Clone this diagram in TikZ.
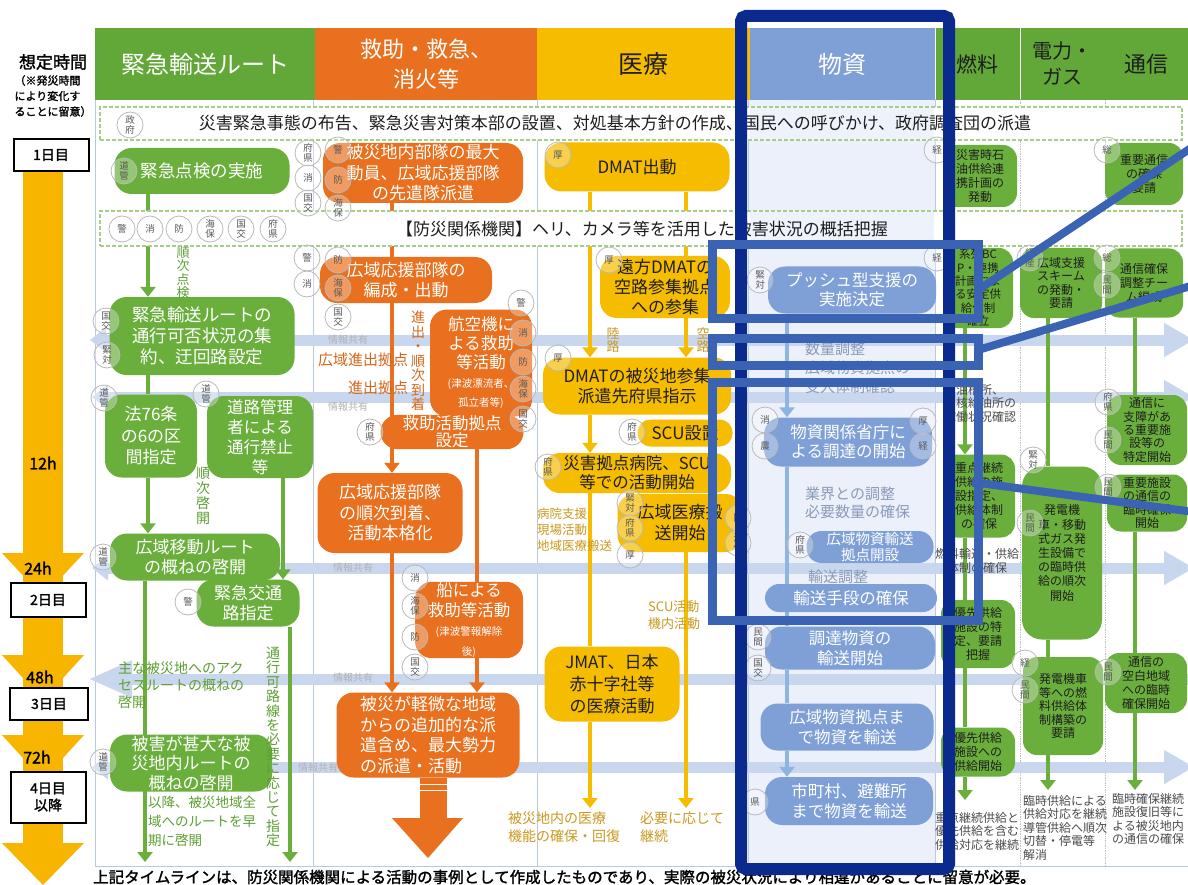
\documentclass[tikz,border=0pt]{standalone}
\usepackage{fontspec}
\setmainfont{Noto Sans CJK JP}[AutoFakeBold=1.6]
\usetikzlibrary{arrows.meta,calc}
\newcommand\fz[2]{\fontsize{#1}{#2}\selectfont}
\definecolor{gr}{HTML}{6AAF3C}
\definecolor{grh}{HTML}{62A838}
\definecolor{grt}{HTML}{5E9F33}
\definecolor{orn}{HTML}{E9701E}
\definecolor{ort}{HTML}{D4661C}
\definecolor{yel}{HTML}{F6BC00}
\definecolor{yelt}{HTML}{C99A20}
\definecolor{bln}{HTML}{7EA0D7}
\definecolor{blline}{HTML}{8DB4E2}
\definecolor{blt}{HTML}{8A9BB8}
\definecolor{lav}{HTML}{EBF0FB}
\definecolor{bandc}{HTML}{C8D7ED}
\definecolor{navy}{HTML}{0B2A8E}
\definecolor{hib}{HTML}{3A63B4}
\definecolor{framec}{HTML}{B9C9E2}
\definecolor{dashc}{HTML}{A3CF86}
\definecolor{tyel}{HTML}{F7B500}
\definecolor{dk}{HTML}{1E1E1E}
\pgfdeclarelayer{bg}\pgfdeclarelayer{ln}\pgfdeclarelayer{fg}
\pgfsetlayers{bg,ln,main,fg}
\begin{document}
\begin{tikzpicture}[x=1pt,y=-1pt,
 sz/.style 2 args={minimum width=#1pt, minimum height=#2pt},
 box/.style={rounded corners=17pt, inner sep=1pt, align=center},
 gn/.style={box, fill=gr, text=white, font=\fz{17.5}{21}},
 on/.style={box, fill=orn, text=white, font=\fz{17}{20.5}},
 yn/.style={box, fill=yel, text=dk, font=\fz{17}{20}},
 bn/.style={box, fill=bln, text=white, font=\fz{16.5}{19.5}},
 sn/.style={box, rounded corners=14pt, fill=gr, text=dk, font=\fz{12}{14}},
 hdr/.style={inner sep=0pt, align=center},
 circ/.style={circle, draw=gray!55, line width=0.8pt, fill=white, fill opacity=0.3, text opacity=1, text=gray!70!black, minimum size=26pt, inner sep=0pt, align=center, font=\fz{9.5}{10.5}},
 tarr/.style={-{Triangle[width=15pt,length=10pt]}},
 gline/.style={draw=gr, line width=4.5pt},
 oline/.style={draw=orn, line width=4.5pt},
 yline/.style={draw=yel, line width=4.5pt},
 bline/.style={draw=blline, line width=4.5pt},
 band/.style={draw=bandc, line width=11pt},
 rowbox/.style={draw=dashc, line width=1.2pt, dash pattern=on 4pt off 2pt, fill=white},
 gtext/.style={text=grt, align=center, inner sep=0pt},
 otext/.style={text=ort, align=center, inner sep=0pt},
 ytext/.style={text=yelt, align=left, inner sep=0pt},
 btext/.style={text=blt, align=left, inner sep=0pt},
 ktext/.style={text=dk!80, align=left, inner sep=0pt, font=\fz{12}{13.5}},
 daybox/.style={draw=black, line width=2pt, fill=white, inner sep=0pt, font=\fz{14}{16}\bfseries, align=center},
 hl/.style={draw=hib, line width=9pt},
]
\useasboundingbox (0,0) rectangle (1188,885);

% ---------------- background ----------------
\begin{pgfonlayer}{bg}
\fill[white] (0,0) rectangle (1188,885);
\fill[lav] (748,100) rectangle (935,866);
\foreach \x in {313,537,748,935} \draw[framec, line width=0.8pt] (\x,100) -- (\x,866);
\foreach \x in {1020,1105} \draw[gray!50, line width=0.7pt, densely dotted] (\x,100) -- (\x,866);
\draw[framec, line width=1pt] (95,100) rectangle (1188,866);
% info-sharing bands
\draw[band, {Triangle[width=24pt,length=16pt]}-{Triangle[width=32pt,length=30pt]}] (90,340) -- (1194,340);
\draw[band, {Triangle[width=24pt,length=16pt]}-{Triangle[width=32pt,length=30pt]}] (92,397) -- (1194,397);
\draw[band, {Triangle[width=24pt,length=16pt]}-{Triangle[width=32pt,length=30pt]}] (92,568) -- (1194,568);
\draw[band, {Triangle[width=34pt,length=44pt]}-] (88,679) -- (1190,679);
\draw[band, {Triangle[width=24pt,length=16pt]}-{Triangle[width=32pt,length=30pt]}] (92,767) -- (1194,767);
\end{pgfonlayer}

% ---------------- time axis ----------------
\fill[tyel] (23,172) rectangle (63,848);
\fill[tyel] (2,553) -- (84,553) -- (43,597) -- cycle;
\fill[tyel] (2,655) -- (84,655) -- (43,700) -- cycle;
\fill[tyel] (2,735) -- (84,735) -- (43,780) -- cycle;
\fill[tyel] (2,843) -- (84,843) -- (43,885) -- cycle;
\node[font=\fz{17}{20}\bfseries] (hd1) at (53,62) {想定時間};
\node[font=\fz{11}{15.5}\bfseries, align=left] (hd2) at (53,96) {（※発災時間\\により変化す\\ることに留意）};
\node[daybox, minimum width=75pt, minimum height=32pt] (d1) at (51,155) {1日目};
\node[daybox, minimum width=75pt, minimum height=34pt] (d2) at (48,600) {2日目};
\node[daybox, minimum width=78pt, minimum height=32pt] (d3) at (49,704) {3日目};
\node[daybox, minimum width=75pt, minimum height=51pt, font=\fz{14}{17}\bfseries] (d4) at (48,797) {4日目\\以降};
\node[font=\fz{16}{18}\bfseries] (t12) at (43,463) {12h};
\node[font=\fz{16}{18}\bfseries] (t24) at (38,568) {24h};
\node[font=\fz{16}{18}\bfseries] (t48) at (40,677) {48h};
\node[font=\fz{16}{18}\bfseries] (t72) at (37,757) {72h};

% ---------------- headers ----------------
\node[hdr, fill=grh, minimum width=220pt, minimum height=72pt, text=white, font=\fz{24}{28}] (h1) at (205,64) {緊急輸送ルート};
\node[hdr, fill=orn, minimum width=222pt, minimum height=72pt, text=white, font=\fz{22}{30}] (h2) at (426,64) {救助・救急、\\消火等};
\node[hdr, fill=yel, minimum width=213pt, minimum height=72pt, text=dk, font=\fz{25}{28}] (h3) at (643.5,64) {医療};
\node[hdr, fill=bln, minimum width=185pt, minimum height=72pt, text=white, font=\fz{24}{28}] (h4) at (842.5,64) {物資};
\node[hdr, fill=grh, minimum width=84pt, minimum height=72pt, text=dk, font=\fz{21}{24}] (h5) at (977.5,64) {燃料};
\node[hdr, fill=grh, minimum width=84pt, minimum height=72pt, text=dk, font=\fz{20}{26}] (h6) at (1062.5,64) {電力・\\ガス};
\node[hdr, fill=grh, minimum width=83pt, minimum height=72pt, text=dk, font=\fz{22}{26}] (h7) at (1146.5,64) {通信};

% ---------------- nodes: green ----------------
\node[gn, sz={175}{46}] (g1) at (202,171) {緊急点検の実施};
\node[gn, sz={185}{78}] (g2) at (202,336) {緊急輸送ルートの\\通行可否状況の集\\約、迂回路設定};
\node[gn, sz={92}{83}, font=\fz{17}{21.5}] (g3) at (151,436) {法76条\\の6の区\\間指定};
\node[gn, sz={106}{82}, font=\fz{16.5}{20}] (g4) at (260,437) {道路管理\\者による\\通行禁止\\等};
\node[gn, sz={170}{47}, font=\fz{17}{20.5}] (g5) at (195,557) {広域移動ルート\\の概ねの啓開};
\node[gn, sz={103}{47}, font=\fz{17}{20.5}] (g6) at (248,603) {緊急交通\\路指定};
\node[gn, sz={162}{57}, font=\fz{17}{19.5}] (g7) at (191,763) {被害が甚大な被\\災地内ルートの\\概ねの啓開};

% ---------------- nodes: orange ----------------
\node[on, sz={200}{60}] (o1) at (423,173) {被災地内部隊の最大\\動員、広域応援部隊\\の先遣隊派遣};
\node[on, sz={172}{46}] (o2) at (406,280) {広域応援部隊の\\編成・出動};
\node[on, sz={102}{107}, font=\fz{16.5}{19}] (o3) at (481,363) {航空機に\\よる救助\\等活動\\{\fz{10.5}{13}(津波漂流者、}\\{\fz{10.5}{13}孤立者等)}};
\node[on, sz={143}{32}, font=\fz{16.5}{17}] (o4) at (452,432) {救助活動拠点\\設定};
\node[on, sz={145}{80}] (o5) at (390,513) {広域応援部隊\\の順次到着、\\活動本格化};
\node[on, sz={108}{74}, font=\fz{16.5}{19.5}] (o6) at (469,620) {船による\\救助等活動\\{\fz{10.5}{13}(津波警報解除}\\{\fz{10.5}{13}後)}};
\node[on, sz={183}{85}, align=left] (o7) at (428,735) {被災が軽微な地域\\からの追加的な派\\遣含め、最大勢力\\の派遣・活動};

% ---------------- nodes: yellow ----------------
\node[yn, sz={185}{49}] (y1) at (637,167) {DMAT出動};
\node[yn, sz={130}{62}] (y2) at (665,287) {遠方DMATの\\空路参集拠点\\への参集};
\node[yn, sz={188}{57}] (y3) at (637,386) {DMATの被災地参集\\派遣先府県指示};
\node[yn, sz={95}{27}, rounded corners=13pt] (y4) at (685,433) {SCU設置};
\node[yn, sz={188}{40}, font=\fz{16.5}{19}] (y5) at (637,473) {災害拠点病院、SCU\\等での活動開始};
\node[yn, sz={125}{58}, font=\fz{17}{21}] (y6) at (680,523) {広域医療搬\\送開始};
\node[yn, sz={135}{75}, font=\fz{17}{22}] (y7) at (612,684) {JMAT、日本\\赤十字社等\\の医療活動};

% ---------------- nodes: blue ----------------
\node[bn, sz={168}{47}] (b1) at (852,290) {プッシュ型支援の\\実施決定};
\node[bn, sz={168}{49}] (b2) at (848,442) {物資関係省庁に\\よる調達の開始};
\node[bn, sz={127}{32}, font=\fz{14.5}{15.5}, rounded corners=15pt] (b3) at (870,547) {広域物資輸送\\拠点開設};
\node[bn, sz={172}{28}, rounded corners=14pt] (b4) at (851,598) {輸送手段の確保};
\node[bn, sz={170}{43}, font=\fz{16.5}{20}] (b5) at (850,648) {調達物資の\\輸送開始};
\node[bn, sz={173}{47}] (b6) at (847,727) {広域物資拠点ま\\で物資を輸送};
\node[bn, sz={168}{48}, font=\fz{16.5}{20}] (b7) at (849,801) {市町村、避難所\\まで物資を輸送};

% ---------------- nodes: right columns ----------------
\node[sn, sz={74}{62}] (f1) at (980,176) {災害時石\\油供給連\\携計画の\\発動};
\node[sn, sz={70}{80}, font=\fz{11.5}{13.4}] (f2) at (978,288) {系列BC\\P・連携\\計画によ\\る安定供\\給体制\\確立};
\node[sn, sz={72}{83}, font=\fz{12}{14}] (f3) at (979,496) {重点継続\\供給の施\\設指定、\\供給体制\\の確保};
\node[sn, sz={74}{68}] (f4) at (978,634) {優先供給\\施設の特\\定、要請\\把握};
\node[sn, sz={74}{49}] (f5) at (978,752) {優先供給\\施設への\\供給開始};
\node[sn, sz={82}{70}, font=\fz{12}{13.5}] (e1) at (1061,283) {広域支援\\スキーム\\の発動・\\要請};
\node[sn, sz={80}{173}, font=\fz{12}{14.2}, rounded corners=20pt] (e2) at (1062,553) {発電機\\車・移動\\式ガス発\\生設備で\\の臨時供\\給の順次\\開始};
\node[sn, sz={80}{98}, font=\fz{12}{13.5}] (e3) at (1063,706) {発電機車\\等への燃\\料供給体\\制構築の\\要請};
\node[sn, sz={78}{62}] (t1) at (1144,174) {重要通信\\の確保\\要請};
\node[sn, sz={78}{69}] (t2) at (1144,283) {通信確保\\調整チー\\ム編成};
\node[sn, sz={80}{70}, font=\fz{12}{13.3}] (t3) at (1147,430) {通信に\\支障があ\\る重要施\\設等の\\特定開始};
\node[sn, sz={80}{57}, font=\fz{12}{13.5}] (t4) at (1147,503) {重要施設\\の通信の\\臨時確保\\開始};
\node[sn, sz={82}{60}, font=\fz{12}{14}] (t5) at (1146,683) {通信の\\空白地域\\への臨時\\確保開始};

% ---------------- free coordinates ----------------
\coordinate (xg1) at (148,0); \coordinate (xg2) at (283,0); \coordinate (xg3) at (145,0); \coordinate (xg4) at (290,0);
\coordinate (xo1) at (392,0); \coordinate (xo2) at (477,0);
\coordinate (xy1) at (590,0); \coordinate (xy2) at (686,0);
\coordinate (xb1) at (787,0);
\coordinate (xf) at (965,0); \coordinate (xe) at (1048,0); \coordinate (xt) at (1135,0);
\coordinate (gend1) at (145,862); \coordinate (gend2) at (290,862);
\coordinate (yend1) at (590,808); \coordinate (yend2) at (686,808);
\coordinate (fend) at (965,800); \coordinate (eend) at (1048,790); \coordinate (tend) at (1135,790);

% ---------------- connectors ----------------
\begin{pgfonlayer}{ln}
\draw[gline, tarr] (g1.south -| xg1) -- (g2.north -| xg1);
\draw[gline] (g2.south -| xg1) -- (g3.north -| xg1);
\draw[gline, tarr] (g3.south -| xg1) -- (g5.north -| xg1);
\draw[gline, tarr] (g4.south -| xg2) -- (g6.north -| xg2);
\draw[gline, tarr] (g5.south -| xg3) -- (gend1);
\draw[gline, tarr] (g6.south -| xg4) -- (gend2);
\draw[oline] (o1.south -| xo1) -- (o2.north -| xo1);
\draw[oline, tarr] (o2.south -| xo1) -- (o5.north -| xo1);
\draw[oline] (o4.south -| xo2) -- (o6.north -| xo2);
\draw[oline, tarr] (o5.south -| xo1) -- (o7.north -| xo1);
\draw[oline, tarr] (o6.south -| xo2) -- (o7.north -| xo2);
\draw[yline, tarr] (y1.south -| xy1) -- (y3.north -| xy1);
\draw[yline] (y1.south -| xy2) -- (y2.north -| xy2);
\draw[yline, tarr] (y2.south -| xy2) -- (y3.north -| xy2);
\draw[yline, tarr] (y3.south -| xy1) -- (y5.north -| xy1);
\draw[yline] (y5.south -| xy1) -- (y7.north -| xy1);
\draw[yline, tarr] (y6.south -| xy2) -- (yend2);
\draw[yline, tarr] (y7.south -| xy1) -- (yend1);
\draw[bline, tarr] (b1.south -| xb1) -- (b2.north -| xb1);
\draw[bline] (b2.south -| xb1) -- (b4.north -| xb1);
\draw[bline] (b4.south -| xb1) -- (b5.north -| xb1);
\draw[bline] (b5.south -| xb1) -- (b6.north -| xb1);
\draw[bline, tarr] (b6.south -| xb1) -- (b7.north -| xb1);
\draw[gline, tarr] (f2.south -| xf) -- (f3.north -| xf);
\draw[gline] (f3.south -| xf) -- (f4.north -| xf);
\draw[gline] (f4.south -| xf) -- (f5.north -| xf);
\draw[gline, tarr] (f5.south -| xf) -- (fend);
\draw[gline] (e1.south -| xe) -- (e2.north -| xe);
\draw[gline] (e2.south -| xe) -- (e3.north -| xe);
\draw[gline, tarr] (e3.south -| xe) -- (eend);
\draw[gline] (t2.south -| xt) -- (t3.north -| xt);
\draw[gline] (t4.south -| xt) -- (t5.north -| xt);
\draw[gline, tarr] (t5.south -| xt) -- (tend);
% row boxes (cover the lines)
\node[rowbox, sz={1082}{33}, inner sep=0pt] (r1) at (641,123.5) {};
\node[rowbox, sz={1082}{35}, inner sep=0pt] (r2) at (641,228.5) {};
\fill[lav, opacity=0.85] (750,108) rectangle (934,139);
\fill[lav, opacity=0.85] (750,212) rectangle (934,245);
\end{pgfonlayer}

\node[font=\fz{17}{20}, text=dk] (r1t) at (615,123) {災害緊急事態の布告、緊急災害対策本部の設置、対処基本方針の作成、国民への呼びかけ、政府調査団の派遣};
\node[font=\fz{17}{20}, text=dk] (r2t) at (642,229) {【防災関係機関】ヘリ、カメラ等を活用した被害状況の概括把握};

% ---------------- free texts ----------------
\node[gtext, font=\fz{13}{13.5}] (gv1) at (183,273) {順\\次\\点\\検};
\node[gtext, font=\fz{14}{15}] (gv2) at (203,496) {順\\次\\啓\\開};
\node[gtext, font=\fz{14}{14.4}] (gv3) at (273,747) {通\\行\\可\\路\\線\\を\\必\\要\\に\\応\\じ\\て\\指\\定};
\node[gtext, font=\fz{14}{17}, align=left, anchor=west] (gt1) at (118,685) {主な被災地へのアク\\セスルートの概ねの\\啓開};
\node[gtext, font=\fz{13.5}{19}, align=left, anchor=north west] (gt2) at (148,796) {以降、被災地域全\\域へのルートを早\\期に啓開};
\node[otext, font=\fz{14}{14.5}] (ov1) at (418,361) {進\\出\\・\\順\\次\\到\\着};
\node[otext, font=\fz{15}{17}] (ot1) at (363,360) {広域進出拠点};
\node[otext, font=\fz{15}{17}] (ot2) at (378,388) {進出拠点};
\node[text=gray!60, font=\fz{10}{11}, inner sep=0pt] (s1) at (348,340) {情報共有};
\node[text=gray!60, font=\fz{10}{11}, inner sep=0pt] (s2) at (348,407) {情報共有};
\node[text=gray!60, font=\fz{10}{11}, inner sep=0pt] (s3) at (353,568) {情報共有};
\node[text=gray!60, font=\fz{10}{11}, inner sep=0pt] (s4) at (353,678) {情報共有};
\node[text=gray!60, font=\fz{10}{11}, inner sep=0pt] (s5) at (318,768) {情報共有};
\node[ytext, font=\fz{13}{13.5}, align=center] (yv1) at (613,340) {陸\\路};
\node[ytext, font=\fz{13}{13.5}, align=center] (yv2) at (703,340) {空\\路};
\node[ytext, font=\fz{12.5}{16}, anchor=north west] (yt1) at (537,508) {病院支援\\現場活動\\地域医療搬送};
\node[ytext, font=\fz{13}{17}, anchor=north west] (yt2) at (648,600) {SCU活動\\機内活動};
\node[ytext, font=\fz{14}{18}, anchor=north west] (yt3) at (508,812) {被災地内の医療\\機能の確保・回復};
\node[ytext, font=\fz{14}{18}, anchor=north west] (yt4) at (640,812) {必要に応じて\\継続};
\node[btext, font=\fz{15}{19}, anchor=north west] (bt1) at (805,342) {数量調整\\広域物資拠点の\\受入体制確認};
\node[btext, font=\fz{15}{18}, anchor=north west] (bt2) at (805,487) {業界との調整\\必要数量の確保};
\node[btext, font=\fz{15}{17}] (bt3) at (838,577) {輸送調整};
\node[ktext, align=center] (ft1) at (980,403) {油槽所、\\中核給油所の\\稼働状況確認};
\node[ktext, align=center] (ft2) at (977,561) {燃料輸送・供給\\体制の確保};
\node[ktext, align=center] (ft3) at (977,831) {重点継続供給と\\優先供給を含む\\供給対応を継続};
\node[ktext, anchor=north west] (et1) at (1023,795) {臨時供給による\\供給対応を継続\\導管供給へ順次\\切替・停電等\\解消};
\node[ktext, anchor=north west] (tt1) at (1112,793) {臨時確保継続\\施設復旧等に\\よる被災地内\\の通信の確保};
\node[anchor=west, font=\fz{15.5}{18}\bfseries, inner sep=0pt] (foot) at (93,877) {上記タイムラインは、防災関係機関による活動の事例として作成したものであり、実際の被災状況により相違があることに留意が必要。};

% ---------------- big orange arrow ----------------
\fill[orn] (o7.south -| 420,0) rectangle (447,820);
\fill[orn] (392,818) -- (463,818) -- (428,858) -- cycle;
\draw[white, line width=1pt] (420,784) -- (447,784) (420,790) -- (447,790);

% ---------------- circles ----------------
\node[circ] (c1) at (130,125) {政\\府};
\node[circ] (c2) at (122,229) {警};
\node[circ] (c3) at (150,229) {消};
\node[circ] (c4) at (179,229) {防};
\node[circ] (c5) at (210,229) {海\\保};
\node[circ] (c6) at (241,229) {国\\交};
\node[circ] (c7) at (273,229) {府\\県};
\node[circ] (c8) at (124,171) {道\\管};
\node[circ] (c9) at (106,321) {国\\交};
\node[circ] (c10) at (107,355) {緊\\対};
\node[circ] (c11) at (104,398) {道\\管};
\node[circ] (c12) at (206,394) {道\\管};
\node[circ] (c13) at (103,557) {道\\管};
\node[circ] (c14) at (188,602) {警};
\node[circ] (c15) at (103,762) {道\\管};
\node[circ] (c16) at (308,153) {府\\県};
\node[circ] (c17) at (308,178) {消};
\node[circ] (c18) at (308,203) {国\\交};
\node[circ] (c19) at (338,150) {警};
\node[circ] (c20) at (338,180) {防};
\node[circ] (c21) at (338,208) {海\\保};
\node[circ] (c22) at (307,258) {警};
\node[circ] (c23) at (307,284) {消};
\node[circ] (c24) at (338,260) {防};
\node[circ] (c25) at (338,288) {海\\保};
\node[circ] (c26) at (338,317) {国\\交};
\node[circ] (c27) at (521,303) {警};
\node[circ] (c28) at (523,333) {消};
\node[circ] (c29) at (523,362) {防};
\node[circ] (c30) at (523,389) {海\\保};
\node[circ] (c31) at (523,419) {国\\交};
\node[circ] (c32) at (370,432) {府\\県};
\node[circ] (c33) at (415,578) {消};
\node[circ] (c34) at (415,606) {海\\保};
\node[circ] (c35) at (415,637) {防};
\node[circ] (c36) at (415,667) {国\\交};
\node[circ] (c37) at (558,155) {厚};
\node[circ] (c38) at (609,260) {厚};
\node[circ] (c39) at (558,358) {厚};
\node[circ] (c40) at (632,432) {府\\県};
\node[circ] (c41) at (548,467) {府\\県};
\node[circ] (c42) at (630,503) {緊\\対};
\node[circ] (c43) at (630,528) {府\\県};
\node[circ] (c44) at (630,555) {厚};
\node[circ] (c45) at (738,518) {防};
\node[circ] (c46) at (738,543) {海\\保};
\node[circ] (c47) at (760,280) {緊\\対};
\node[circ] (c48) at (765,420) {消};
\node[circ] (c49) at (765,446) {農};
\node[circ] (c50) at (923,421) {厚};
\node[circ] (c51) at (923,446) {経};
\node[circ] (c52) at (800,545) {府\\県};
\node[circ] (c53) at (758,637) {民\\間};
\node[circ] (c54) at (758,668) {国\\交};
\node[circ] (c55) at (755,802) {県};
\node[circ] (c56) at (937,150) {経};
\node[circ] (c57) at (937,258) {経};
\node[circ] (c58) at (1030,258) {経\\産};
\node[circ] (c59) at (1033,460) {緊\\対};
\node[circ] (c60) at (1030,523) {民\\間};
\node[circ] (c61) at (1025,663) {経};
\node[circ] (c62) at (1025,690) {民\\間};
\node[circ] (c63) at (1107,150) {総};
\node[circ] (c64) at (1107,258) {総};
\node[circ] (c65) at (1107,285) {民\\間};
\node[circ] (c66) at (1108,402) {府\\県};
\node[circ] (c67) at (1108,440) {民\\間};
\node[circ] (c68) at (1108,487) {民\\間};
\node[circ] (c69) at (1108,672) {民\\間};

% ---------------- highlights ----------------
\begin{pgfonlayer}{fg}
\draw[navy, line width=12pt, rounded corners=5pt] (741,16) rectangle (949,869);
\draw[hl] (712,245) rectangle (978,318);
\draw[hl] (712,338) rectangle (978,365);
\draw[hl] (712,382) rectangle (978,620);
\coordinate (hA) at (978,290); \coordinate (hAe) at (1194,146);
\coordinate (hB) at (978,350); \coordinate (hBe) at (1194,285);
\coordinate (hC) at (972,482); \coordinate (hCe) at (1194,512);
\draw[hib, line width=8pt] (hA) -- (hAe);
\draw[hib, line width=8pt] (hB) -- (hBe);
\draw[hib, line width=8pt] (hC) -- (hCe);
\end{pgfonlayer}
\end{tikzpicture}
\end{document}
